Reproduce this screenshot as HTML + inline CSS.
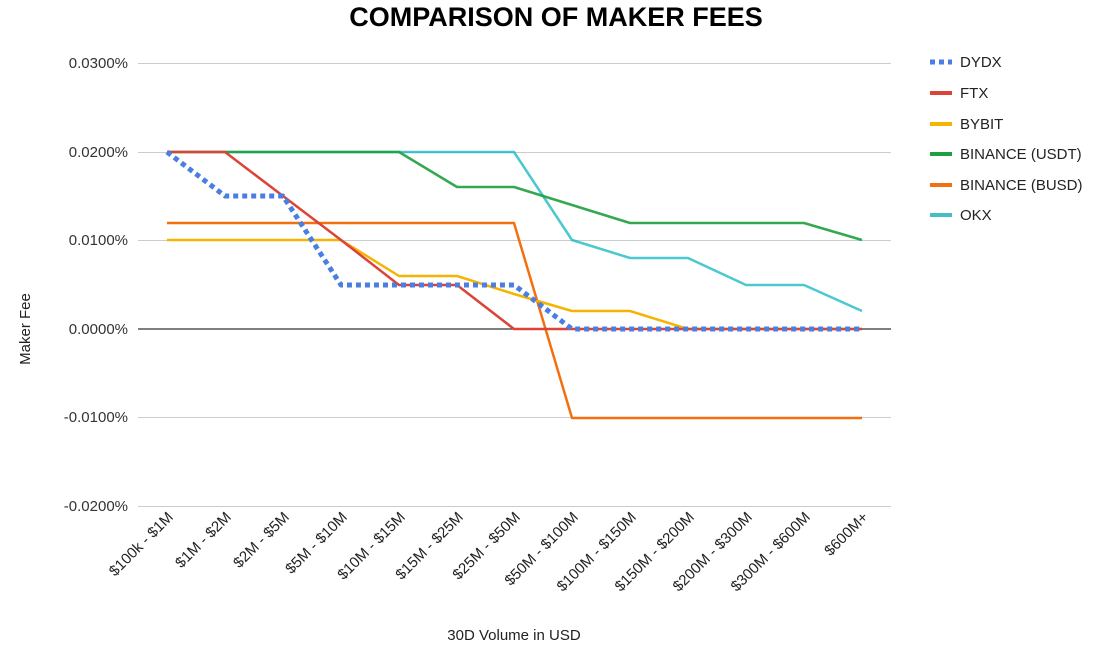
<!DOCTYPE html>
<html><head><meta charset="utf-8"><style>
body{margin:0;background:#fff;}
svg{display:block;font-family:"Liberation Sans",Arial,sans-serif;}
</style></head><body>
<svg width="1111" height="649" viewBox="0 0 1111 649">
<text x="556" y="26" text-anchor="middle" font-size="27" font-weight="bold" fill="#000">COMPARISON OF MAKER FEES</text>
<g stroke="#ccc" stroke-width="1">
<line x1="138" y1="63.5" x2="891" y2="63.5"/>
<line x1="138" y1="152.5" x2="891" y2="152.5"/>
<line x1="138" y1="240.5" x2="891" y2="240.5"/>
<line x1="138" y1="417.5" x2="891" y2="417.5"/>
<line x1="138" y1="506.5" x2="891" y2="506.5"/>
</g>
<line x1="138" y1="329" x2="891" y2="329" stroke="#333" stroke-width="1.2"/>
<g font-size="15" fill="#333" text-anchor="end">
<text x="128" y="68">0.0300%</text>
<text x="128" y="157">0.0200%</text>
<text x="128" y="245">0.0100%</text>
<text x="128" y="334">0.0000%</text>
<text x="128" y="422">-0.0100%</text>
<text x="128" y="511">-0.0200%</text>
</g>
<text transform="translate(30,329) rotate(-90)" text-anchor="middle" font-size="15" fill="#222">Maker Fee</text>
<text x="514" y="640" text-anchor="middle" font-size="15" fill="#222">30D Volume in USD</text>
<g font-size="15" fill="#222" text-anchor="end">
<text transform="translate(174,518) rotate(-45)">$100k - $1M</text>
<text transform="translate(232,518) rotate(-45)">$1M - $2M</text>
<text transform="translate(290,518) rotate(-45)">$2M - $5M</text>
<text transform="translate(348,518) rotate(-45)">$5M - $10M</text>
<text transform="translate(406,518) rotate(-45)">$10M - $15M</text>
<text transform="translate(464,518) rotate(-45)">$15M - $25M</text>
<text transform="translate(521,518) rotate(-45)">$25M - $50M</text>
<text transform="translate(579,518) rotate(-45)">$50M - $100M</text>
<text transform="translate(637,518) rotate(-45)">$100M - $150M</text>
<text transform="translate(695,518) rotate(-45)">$150M - $200M</text>
<text transform="translate(753,518) rotate(-45)">$200M - $300M</text>
<text transform="translate(811,518) rotate(-45)">$300M - $600M</text>
<text transform="translate(869,518) rotate(-45)">$600M+</text>
</g>
<g fill="none" stroke-width="2.5" stroke-linejoin="round">
<polyline stroke="#0fb6c0" stroke-opacity="0.75" points="167,152 225,152 283,152 341,152 399,152 457,152 514,152 572,240 630,258 688,258 746,285 804,285 862,311"/>
<polyline stroke="#1e9e3e" stroke-opacity="0.9" points="167,152 225,152 283,152 341,152 399,152 457,187 514,187 572,205 630,223 688,223 746,223 804,223 862,240"/>
<polyline stroke="#f2700f" points="167,223 225,223 283,223 341,223 399,223 457,223 514,223 572,418 630,418 688,418 746,418 804,418 862,418"/>
<polyline stroke="#f4b400" points="167,240 225,240 283,240 341,240 399,276 457,276 514,294 572,311 630,311 688,329 746,329 804,329 862,329"/>
<polyline stroke="#db4437" points="167,152 225,152 283,196 341,240 399,285 457,285 514,329 572,329 630,329 688,329 746,329 804,329 862,329"/>
<polyline stroke="#4a7ee0" stroke-width="5" stroke-dasharray="5,4" points="167,152 225,196 283,196 341,285 399,285 457,285 514,285 572,329 630,329 688,329 746,329 804,329 862,329"/>
</g>
<g font-size="15" fill="#222">
<line x1="930" y1="62" x2="952" y2="62" stroke="#4a7ee0" stroke-width="5" stroke-dasharray="5,4"/><text x="960" y="67">DYDX</text>
<line x1="930" y1="93" x2="952" y2="93" stroke="#db4437" stroke-width="4"/><text x="960" y="98">FTX</text>
<line x1="930" y1="124" x2="952" y2="124" stroke="#f4b400" stroke-width="4"/><text x="960" y="129">BYBIT</text>
<line x1="930" y1="154" x2="952" y2="154" stroke="#1e9e3e" stroke-width="4"/><text x="960" y="159">BINANCE (USDT)</text>
<line x1="930" y1="185" x2="952" y2="185" stroke="#f2700f" stroke-width="4"/><text x="960" y="190">BINANCE (BUSD)</text>
<line x1="930" y1="215" x2="952" y2="215" stroke="#46bdc6" stroke-width="4"/><text x="960" y="220">OKX</text>
</g>
</svg>
</body></html>
